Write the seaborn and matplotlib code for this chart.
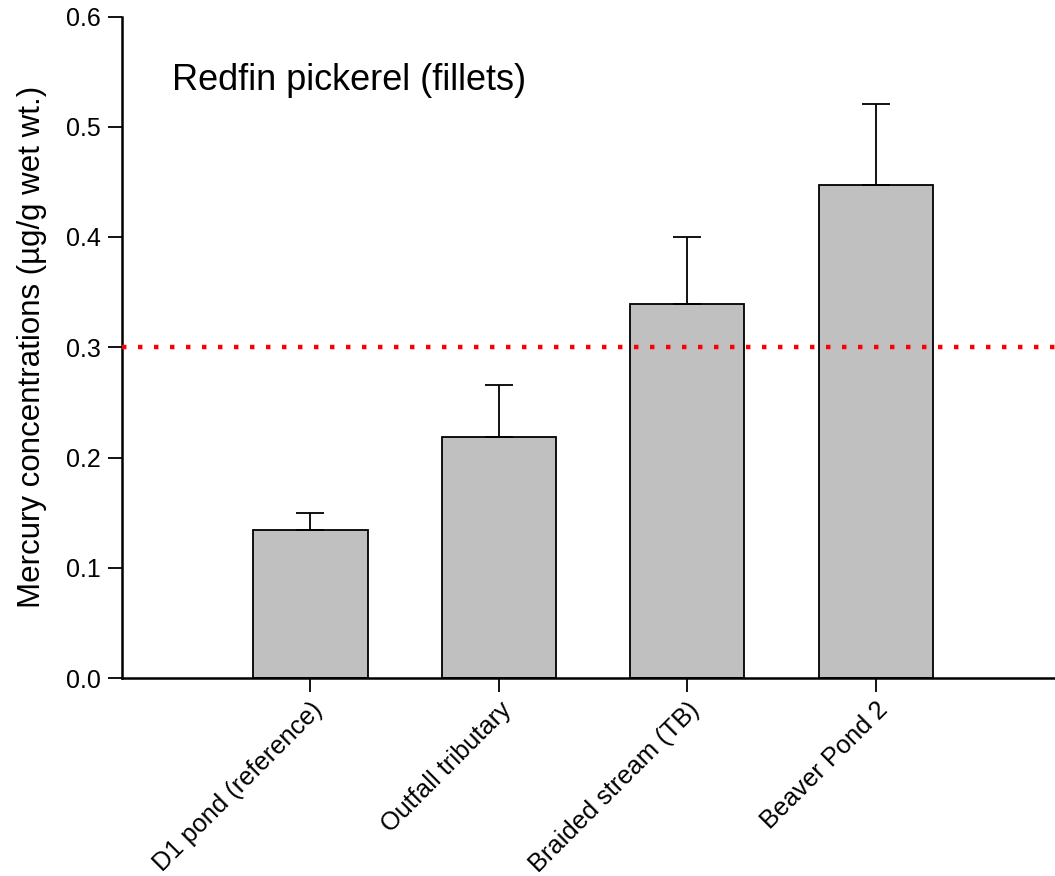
import matplotlib
matplotlib.use("Agg")
import matplotlib.pyplot as plt
import seaborn as sns
import pandas as pd

sites = ["D1 pond (reference)", "Outfall tributary", "Braided stream (TB)", "Beaver Pond 2"]
mercury = [0.134, 0.219, 0.339, 0.447]
mercury_se = [0.0155, 0.047, 0.061, 0.0735]
threshold = 0.3

sns.set_theme(style="ticks")
plt.rcParams["font.family"] = ["Liberation Sans", "DejaVu Sans"]
plt.rcParams["text.color"] = "black"
plt.rcParams["axes.labelcolor"] = "black"
plt.rcParams["xtick.color"] = "black"
plt.rcParams["ytick.color"] = "black"

df = pd.DataFrame({"site": sites, "mercury": mercury})

fig = plt.figure(figsize=(10.55, 8.76), dpi=100)
ax = fig.add_axes([122 / 1055, 1 - 678 / 876, 1 - 122 / 1055, (678 - 16.5) / 876])

sns.barplot(data=df, x="site", y="mercury", color="#c0c0c0", saturation=1,
            width=0.605, edgecolor="black", linewidth=1.3, errorbar=None, ax=ax)

# upper-only standard error bars
ax.errorbar(range(len(sites)), mercury, yerr=[[0] * len(sites), mercury_se],
            fmt="none", ecolor="black", elinewidth=1.3, capsize=10, capthick=1.3, zorder=3)

ax.axhline(threshold, color="red", linestyle=(0, (1, 2.6)), linewidth=3.2, zorder=4)

ax.set_xlim(-1.0, 3.95)
ax.set_ylim(0, 0.6)
ticks = [0.0, 0.1, 0.2, 0.3, 0.4, 0.5, 0.6]
ax.set_yticks(ticks)
ax.set_yticklabels([f"{v:.1f}" for v in ticks])
ax.set_xlabel("")
ax.set_ylabel("Mercury concentrations (\u00b5g/g wet wt.)", fontsize=22.5, labelpad=14)
ax.tick_params(axis="both", direction="out", length=10, width=1.3, labelsize=18, color="black")
ax.tick_params(axis="y", pad=5)
ax.tick_params(axis="x", pad=4, labelsize=18.3)
plt.setp(ax.get_xticklabels(), rotation=45, ha="right", rotation_mode="anchor")
for lbl in ax.get_xticklabels():
    lbl.set_x(lbl.get_position()[0])

for side in ["top", "right"]:
    ax.spines[side].set_visible(False)
for side in ["left", "bottom"]:
    ax.spines[side].set_linewidth(1.8)
    ax.spines[side].set_color("black")

fig.text(172 / 1055, 1 - 81 / 876, "Redfin pickerel (fillets)",
         fontsize=26, va="center", ha="left")

fig.savefig("out.png", dpi=100)
